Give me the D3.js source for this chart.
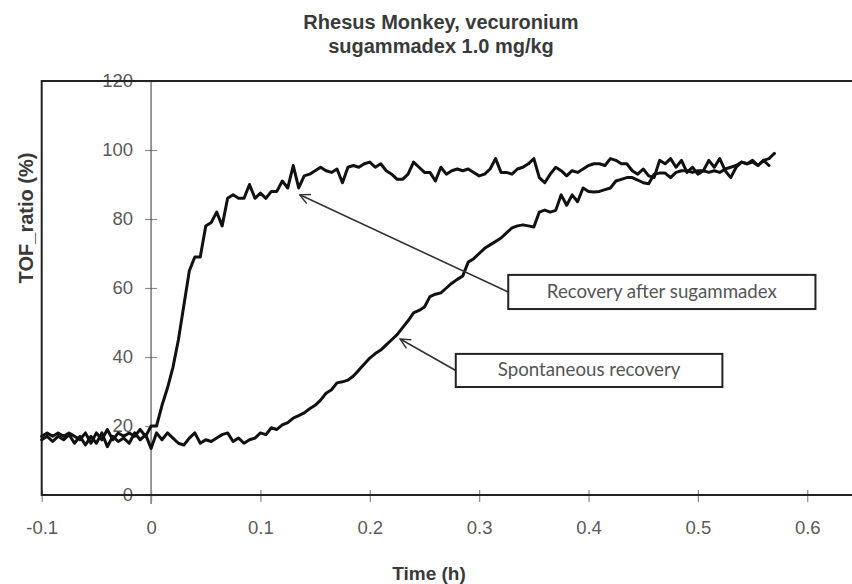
<!DOCTYPE html>
<html>
<head>
<meta charset="utf-8">
<script src="https://cdn.jsdelivr.net/npm/d3@7/dist/d3.min.js"></script>
<style>
  html, body { margin: 0; padding: 0; background: #fff; }
  svg { display: block; }
</style>
</head>
<body>
<svg id="chart" width="852" height="584"></svg>
<script>
// ---------- data ----------
const titleLines = ["Rhesus Monkey, vecuronium", "sugammadex 1.0 mg/kg"];
const xLabel = "Time (h)";
const yLabel = "TOF_ratio (%)";
const xTicks = [-0.1, 0, 0.1, 0.2, 0.3, 0.4, 0.5, 0.6];
const xTickLabels = ["-0.1", "0", "0.1", "0.2", "0.3", "0.4", "0.5", "0.6"];
const yTicks = [0, 20, 40, 60, 80, 100, 120];

// sampling start and step of the time axis (h)
const tStart = -0.1;
const tStep = 0.005;

// Recovery after sugammadex (TOF ratio %)
const sugammadexValues = [
  17, 18, 17, 18, 17, 18, 17, 16, 18, 15,
  18, 16, 19, 16, 18, 17, 18, 17, 19, 17,
  20, 20, 26, 31, 37, 45, 55, 65, 69, 69,
  78, 79, 82, 78, 86, 87, 86, 86, 90, 86,
  87.5, 86, 88, 88, 91, 89, 95.5, 89, 92.5, 93,
  94, 95, 94, 93.5, 94.5, 90.5, 95, 95.5, 95, 96,
  96.5, 95, 96, 94, 93, 91.5, 91.5, 93, 96.5, 95,
  93.5, 93.5, 91, 95, 93, 94, 94.5, 94, 94.5, 93.5,
  92.5, 93, 94.5, 97.5, 93.5, 93.5, 93, 94.5, 95, 96,
  97.5, 92, 90.5, 93, 95, 94, 92.5, 94, 93.5, 94.5,
  95.5, 96, 96, 95.5, 97.5, 97, 96, 96, 94, 93,
  94.5, 92.5, 92, 97, 96, 97.5, 95, 97, 93.5, 95,
  93, 94, 97, 95, 97.5, 94, 92, 95, 96.5, 96,
  97, 95.5, 97, 95.5
];

// Spontaneous recovery (TOF ratio %)
const spontaneousValues = [
  16, 17, 15.5, 17, 16, 17.5, 15, 17, 14.5, 17,
  15, 18, 14, 17, 15.5, 16.5, 15, 18, 16, 17.5,
  13.5, 18, 16, 18, 16.5, 15, 14.5, 16.5, 18, 15,
  16, 15.5, 16.5, 17.5, 18, 15.5, 16.5, 15, 16, 16.5,
  18, 17.5, 19.5, 19, 20.3, 21, 22.3, 23, 23.8, 25,
  26, 27.5, 29.5, 30.5, 32.5, 32.8, 33.3, 34.5, 36.2, 38,
  39.7, 41, 42, 43.5, 45, 46.5, 48.5, 50.5, 52.8, 53.5,
  54.5, 57.5, 58.2, 58.6, 60, 61.4, 62.5, 63.5, 67.5, 68.5,
  70, 71.5, 72.5, 73.5, 74.5, 76, 77.4, 78, 78.3, 78,
  77.7, 82, 82.6, 82, 82.5, 87, 84, 87, 85, 89,
  88, 87.8, 88, 88.5, 89, 91, 91.5, 92, 92, 91.3,
  90.5, 90.2, 93, 93.3, 93.3, 92, 93.5, 94, 94, 93.5,
  94, 94, 93.5, 94, 93.5, 94.5, 95, 95.5, 96.5, 96,
  96.5, 95.5, 97, 97.5, 99
];

// annotations (data coordinates)
const annotations = [
  { text: "Recovery after sugammadex", x0: 0.3266, x1: 0.6075, yTop: 63.8, yBot: 53.9, tipX: 0.136, tipY: 87 },
  { text: "Spontaneous recovery",      x0: 0.2786, x1: 0.5224, yTop: 40.9, yBot: 31.3, tipX: 0.2278, tipY: 45.2 }
];

// ---------- drawing ----------
const svg = d3.select("#chart");
const plot = { left: 41.7, right: 851, top: 81, bottom: 495 };

const x = d3.scaleLinear().domain([-0.1, 0.64]).range([plot.left, plot.right]);
const y = d3.scaleLinear().domain([0, 120]).range([plot.bottom, plot.top]);

const toPoints = vals => vals.map((v, i) => ({ t: tStart + i * tStep, v }));
const seriesA = toPoints(sugammadexValues);
const seriesB = toPoints(spontaneousValues);

const tickColor = "#8a8a8a";
const labelColor = "#5a5a5a";
const sans = "Liberation Sans, Arial, sans-serif";

// title
svg.append("g").selectAll("text").data(titleLines).join("text")
  .attr("x", 441).attr("y", (d, i) => 29 + i * 24)
  .attr("text-anchor", "middle")
  .attr("font-family", sans)
  .attr("font-weight", "bold").attr("font-size", 20)
  .attr("fill", "#3a3a3a")
  .text(d => d);

// y axis (at x = 0) with crossing ticks
const yAxisG = svg.append("g").attr("transform", `translate(${x(0)},0)`)
  .call(d3.axisLeft(y).tickValues(yTicks).tickSize(6).tickPadding(12).tickFormat(d3.format("d")));
yAxisG.select(".domain").remove();
yAxisG.selectAll(".tick line").attr("x1", -6).attr("x2", 6).attr("stroke", tickColor).attr("stroke-width", 1.2);
yAxisG.selectAll(".tick text")
  .attr("x", -18)
  .attr("font-family", sans)
  .attr("font-size", 18.5).attr("fill", labelColor);
svg.append("line")
  .attr("x1", x(0)).attr("x2", x(0))
  .attr("y1", plot.top).attr("y2", plot.bottom + 9)
  .attr("stroke", "#555").attr("stroke-width", 1.2);

// x axis at bottom with crossing ticks
const xAxisG = svg.append("g").attr("transform", `translate(0,${plot.bottom})`)
  .call(d3.axisBottom(x).tickValues(xTicks).tickSize(6).tickPadding(20)
    .tickFormat((d, i) => xTickLabels[i]));
xAxisG.select(".domain").remove();
xAxisG.selectAll(".tick line").attr("y1", -5).attr("y2", 7).attr("stroke", tickColor).attr("stroke-width", 1.2);
xAxisG.selectAll(".tick text")
  .attr("font-family", sans)
  .attr("font-size", 18.5).attr("fill", labelColor);

// axis titles
svg.append("text")
  .attr("x", 429).attr("y", 580)
  .attr("text-anchor", "middle")
  .attr("font-family", sans)
  .attr("font-weight", "bold").attr("font-size", 19)
  .attr("fill", "#3a3a3a")
  .text(xLabel);
svg.append("text")
  .attr("transform", "translate(33,218) rotate(-90)")
  .attr("text-anchor", "middle")
  .attr("font-family", sans)
  .attr("font-weight", "bold").attr("font-size", 20)
  .attr("fill", "#3a3a3a")
  .text(yLabel);

// plot border
svg.append("rect")
  .attr("x", plot.left).attr("y", plot.top)
  .attr("width", plot.right - plot.left + 4).attr("height", plot.bottom - plot.top)
  .attr("fill", "none").attr("stroke", "#222").attr("stroke-width", 2);

// series lines
const line = d3.line().x(d => x(d.t)).y(d => y(d.v));
[seriesB, seriesA].forEach(s => {
  svg.append("path").datum(s)
    .attr("d", line)
    .attr("fill", "none").attr("stroke", "#111")
    .attr("stroke-width", 3).attr("stroke-linejoin", "round").attr("stroke-linecap", "round");
});

// arrow marker
svg.append("defs").append("marker")
  .attr("id", "arrow").attr("viewBox", "0 0 12 12")
  .attr("refX", 11).attr("refY", 6)
  .attr("markerWidth", 12).attr("markerHeight", 12)
  .attr("markerUnits", "userSpaceOnUse")
  .attr("orient", "auto")
  .append("path").attr("d", "M1,1 L11,6 L1,11")
  .attr("fill", "none").attr("stroke", "#333").attr("stroke-width", 1.5);

// annotations
annotations.forEach(a => {
  const bx0 = x(a.x0), bx1 = x(a.x1), by0 = y(a.yTop), by1 = y(a.yBot);
  svg.append("line")
    .attr("x1", bx0).attr("y1", (by0 + by1) / 2)
    .attr("x2", x(a.tipX)).attr("y2", y(a.tipY))
    .attr("stroke", "#333").attr("stroke-width", 1.6)
    .attr("marker-end", "url(#arrow)");
  svg.append("rect")
    .attr("x", bx0).attr("y", by0)
    .attr("width", bx1 - bx0).attr("height", by1 - by0)
    .attr("fill", "#fff").attr("stroke", "#222").attr("stroke-width", 2);
  svg.append("text")
    .attr("x", (bx0 + bx1) / 2).attr("y", (by0 + by1) / 2 + 6)
    .attr("text-anchor", "middle")
    .attr("font-family", "Lato, Open Sans, sans-serif")
    .attr("font-size", 18.7).attr("fill", "#555")
    .text(a.text);
});
</script>
</body>
</html>
